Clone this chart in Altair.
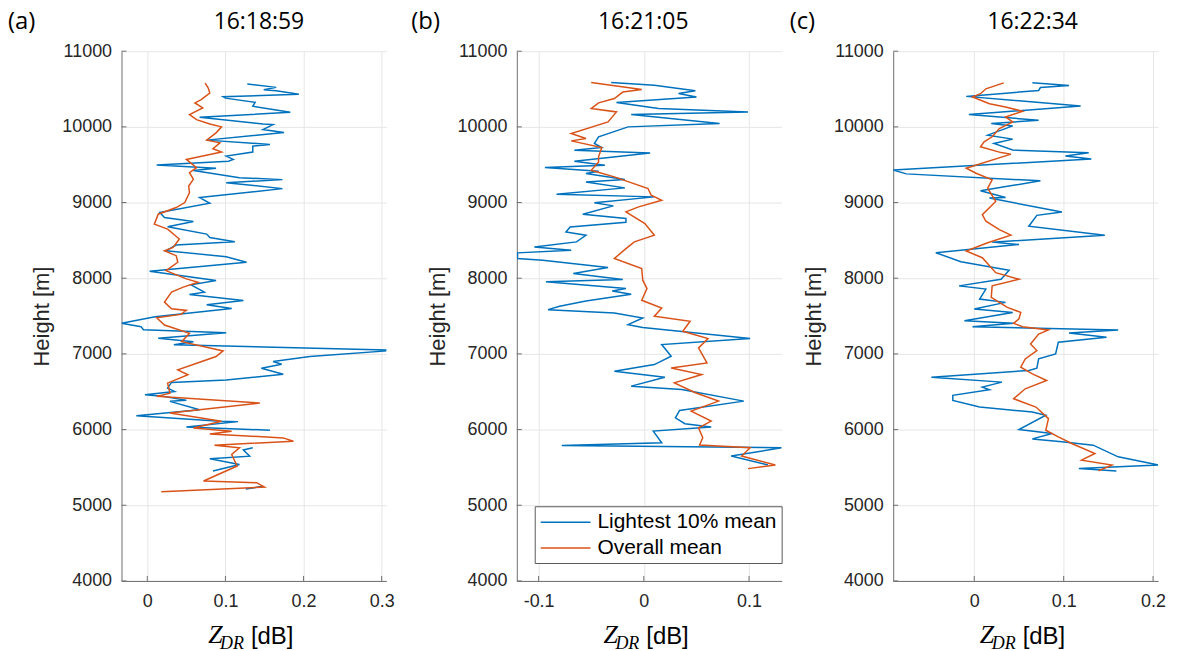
import altair as alt
import pandas as pd

BLUE = "#0072BD"
ORANGE = "#D95319"
SERIES = ["Lightest 10% mean", "Overall mean"]
Y_TICKS = [4000, 5000, 6000, 7000, 8000, 9000, 10000, 11000]

# ---------------- panel (a) 16:18:59 ----------------
a_blue_h = [10566, 10522, 10491, 10478, 10430, 10399, 10380, 10325, 10272, 10193, 10127, 10039, 10030, 9965,
            9925, 9825, 9768, 9745, 9667, 9614, 9570, 9545, 9496, 9452, 9425, 9329, 9303, 9263, 9184, 9066,
            8991, 8868, 8803, 8750, 8680, 8583, 8539, 8482, 8439, 8364, 8285, 8211, 8092, 7969, 7912, 7816,
            7785, 7706, 7649, 7600, 7490, 7404, 7360, 7320, 7281, 7206, 7162, 7120, 7053, 7040, 6965, 6899,
            6864, 6811, 6732, 6654, 6623, 6548, 6504, 6461, 6440, 6386, 6373, 6263, 6184, 6110, 6105, 6035,
            5991,
            5759, 5730, 5649, 5614, 5539, 5452,
            5250, 5215]
a_blue_v = [0.128, 0.165, 0.149, 0.165, 0.194, 0.097, 0.100, 0.138, 0.135, 0.183, 0.067, 0.148, 0.161, 0.148,
            0.175, 0.076, 0.157, 0.135, 0.135, 0.101, 0.110, 0.104, 0.012, 0.088, 0.059, 0.118, 0.173, 0.101,
            0.173, 0.067, 0.080, 0.016, 0.022, 0.059, 0.026, 0.076, 0.080, 0.112, 0.037, 0.024, 0.101, 0.127,
            0.003, 0.088, 0.056, 0.073, 0.054, 0.123, 0.076, 0.108, 0.010, -0.033, -0.008, -0.005, 0.101,
            0.014, 0.059, 0.034, 0.306, 0.306, 0.208, 0.161, 0.172, 0.146, 0.174, 0.101, 0.031, 0.026, 0.035,
            -0.003, 0.020, 0.050, 0.029, 0.067, -0.014, 0.093, 0.116, 0.050, 0.157,
            0.135, 0.123, 0.131, 0.080, 0.118, 0.084,
            0.148, 0.126]
a_blue_seg = [0] * 79 + [1] * 6 + [2] * 2

a_orange_h = [10579, 10513, 10447, 10400, 10360, 10316, 10250, 10162, 10096, 10039, 10000, 9921, 9825, 9789,
              9711, 9667, 9614, 9570, 9461, 9395, 9307, 9219, 9132, 9000, 8934, 8846, 8715, 8649, 8518, 8408,
              8364, 8298, 8211, 8101, 7991, 7947, 7882, 7816, 7684, 7596, 7575, 7522, 7478, 7382, 7272, 7162,
              7039, 6965, 6890, 6789, 6724, 6614, 6482, 6439, 6351, 6219, 6110, 6022, 5978, 5943, 5890, 5846,
              5794, 5759, 5671, 5518, 5320, 5298, 5241, 5180]
a_orange_v = [0.074, 0.078, 0.080, 0.074, 0.069, 0.061, 0.071, 0.054, 0.063, 0.080, 0.095, 0.088, 0.076, 0.093,
              0.084, 0.095, 0.071, 0.050, 0.063, 0.054, 0.059, 0.053, 0.054, 0.048, 0.037, 0.014, 0.009, 0.026,
              0.041, 0.033, 0.022, 0.037, 0.039, 0.024, 0.050, 0.065, 0.046, 0.031, 0.022, 0.031, 0.050, 0.043,
              0.012, 0.022, 0.054, 0.044, 0.097, 0.088, 0.067, 0.039, 0.052, 0.026, 0.029, 0.012, 0.144, 0.029,
              0.095, 0.059, 0.108, 0.080, 0.174, 0.187, 0.086, 0.118, 0.108, 0.115, 0.072, 0.140, 0.150, 0.018]

# ---------------- panel (b) 16:21:05 ----------------
b_blue_h = [10586, 10551, 10476, 10441, 10396, 10322, 10242, 10198, 10163, 10044, 10000, 9868, 9780, 9727,
            9692, 9656, 9546, 9493, 9463, 9414, 9383, 9304, 9273, 9194, 9110, 9075, 8996, 8956, 8846, 8789,
            8740, 8678, 8612, 8568, 8480, 8414, 8370, 8335, 8260, 8238, 8141, 8062, 7982, 7952, 7863, 7830,
            7789, 7700, 7629, 7585, 7541, 7475, 7387, 7350, 7202, 7123, 6969, 6859, 6771, 6692, 6574, 6530,
            6376, 6253, 6156, 6077, 6033, 5980, 5826, 5791, 5760, 5650, 5532]
b_blue_v = [-0.031, 0.010, 0.049, 0.033, 0.050, -0.026, 0.014, 0.099, -0.012, 0.072, -0.015, -0.043, -0.047,
            -0.040, -0.066, 0.006, -0.066, -0.037, -0.094, -0.043, -0.055, -0.018, -0.055, -0.018, -0.083,
            0.010, -0.047, -0.029, -0.058, -0.017, -0.017, -0.070, -0.074, -0.055, -0.064, -0.104, -0.069,
            -0.120, -0.120, -0.096, -0.034, -0.067, -0.020, -0.093, -0.017, -0.030, -0.012, -0.055, -0.080,
            -0.091, -0.028, -0.001, -0.015, -0.001, 0.101, 0.017, 0.026, 0.010, -0.028, 0.020, -0.012, 0.036,
            0.095, 0.034, 0.030, 0.039, 0.064, 0.009, 0.017, -0.078, 0.131, 0.083, 0.118]

b_orange_h = [10586, 10493, 10460, 10374, 10317, 10242, 10198, 10066, 9912, 9846, 9815, 9727, 9604, 9537,
              9427, 9339, 9185, 9097, 9031, 8943, 8877, 8722, 8568, 8480, 8392, 8260, 8128, 7974, 7863, 7709,
              7607, 7497, 7431, 7299, 7202, 7079, 6881, 6815, 6727, 6618, 6486, 6376, 6244, 6112, 6024, 5892,
              5796, 5760, 5650, 5532, 5484]
b_orange_v = [-0.050, -0.002, -0.020, -0.028, -0.043, -0.050, -0.026, -0.034, -0.069, -0.055, -0.069, -0.040,
              -0.043, -0.043, -0.050, -0.028, 0.004, 0.007, 0.017, -0.005, -0.017, 0.001, 0.010, -0.009,
              -0.017, -0.028, -0.002, -0.001, 0.003, -0.002, 0.017, 0.010, 0.044, 0.037, 0.061, 0.052, 0.060,
              0.026, 0.055, 0.029, 0.049, 0.071, 0.045, 0.064, 0.052, 0.056, 0.053, 0.101, 0.093, 0.125, 0.099]

# ---------------- panel (c) 16:22:34 ----------------
c_blue_h = [10582, 10547, 10520, 10481, 10403, 10276, 10162, 10088, 10044, 10013, 9891, 9838, 9781, 9694,
            9659, 9615, 9576, 9431, 9379, 9287, 9155, 9068, 9060, 8875, 8831, 8687, 8569, 8477, 8446, 8337,
            8219, 8105, 7987, 7899, 7856, 7724, 7681, 7593, 7548, 7439, 7404, 7360, 7316, 7276, 7219, 7154,
            7000, 6934, 6811, 6781, 6693, 6627, 6561, 6526, 6452, 6386, 6298, 6232, 6189, 6000, 5947, 5877,
            5838, 5794, 5640, 5531, 5487, 5452]
c_blue_v = [0.065, 0.106, 0.074, 0.072, -0.009, 0.119, -0.006, 0.072, 0.019, 0.043, 0.015, 0.043, 0.022, 0.043,
            0.128, 0.102, 0.131, -0.091, -0.076, 0.074, 0.007, 0.035, 0.017, 0.098, 0.070, 0.061, 0.146, 0.020,
            0.050, -0.043, -0.015, 0.039, 0.030, -0.017, 0.013, 0.006, 0.035, 0.000, 0.043, -0.011, 0.044,
            -0.002, 0.161, 0.106, 0.148, 0.094, 0.091, 0.072, 0.070, 0.061, -0.048, 0.031, 0.009, 0.017,
            -0.024, -0.024, 0.006, 0.065, 0.080, 0.050, 0.087, 0.065, 0.098, 0.133, 0.161, 0.206, 0.117, 0.159]

c_orange_h = [10582, 10503, 10438, 10394, 10306, 10263, 10206, 10131, 10066, 9978, 9869, 9803, 9737, 9660,
              9640, 9453, 9387, 9300, 9190, 9015, 8840, 8753, 8643, 8569, 8468, 8359, 8271, 8074, 7987, 7899,
              7746, 7615, 7549, 7462, 7404, 7360, 7316, 7263, 7132, 7044, 6934, 6825, 6737, 6649, 6539, 6408,
              6298, 6145, 5991, 5904, 5816, 5684, 5596, 5531, 5456]
c_orange_v = [0.033, 0.013, 0.007, -0.002, 0.017, 0.035, 0.054, 0.035, 0.043, 0.028, 0.020, 0.011, 0.007, 0.030,
              0.041, -0.009, 0.002, 0.020, 0.015, 0.024, 0.009, 0.013, 0.028, 0.041, 0.015, -0.009, 0.009,
              0.024, 0.050, 0.020, 0.019, 0.037, 0.052, 0.050, 0.044, 0.054, 0.083, 0.072, 0.063, 0.070, 0.057,
              0.052, 0.065, 0.081, 0.057, 0.044, 0.069, 0.083, 0.080, 0.094, 0.109, 0.135, 0.120, 0.154, 0.139]

X_DOMAINS = {"a": [-0.033, 0.306], "b": [-0.1207, 0.131], "c": [-0.0907, 0.2056]}
X_TICKS = {"a": [0, 0.1, 0.2, 0.3], "b": [-0.1, 0, 0.1], "c": [0, 0.1, 0.2]}
TIMES = {"a": "16:18:59", "b": "16:21:05", "c": "16:22:34"}

W, H = 266, 532
Y_DOMAIN = [4000, 11000]
AXIS_GRAY = "#6e6e6e"


def frame(h, v, name, seg=None):
    if seg is None:
        seg = [0] * len(h)
    return pd.DataFrame({"h": h, "v": v, "series": name,
                         "seg": [f"{name}-{s}" for s in seg], "idx": list(range(len(h)))})


def text_layer(s, x, y, size, font, style="normal", align="left", baseline="alphabetic"):
    return alt.Chart(pd.DataFrame({"t": [s]})).mark_text(
        font=font, fontSize=size, fontStyle=style, align=align, baseline=baseline, color="black"
    ).encode(text="t:N", x=alt.value(x), y=alt.value(y))


def panel(key, df, tag_dx, title_dx, show_legend):
    xscale = alt.Scale(domain=X_DOMAINS[key], nice=False, zero=False)
    yscale = alt.Scale(domain=Y_DOMAIN, nice=False, zero=False)
    if show_legend:
        legend = alt.Legend(title=None, orient="bottom-left", offset=18, fillColor="white",
                            strokeColor="#5a5a5a", padding=5, labelFont="Liberation Sans",
                            labelFontSize=21, labelColor="black", labelLimit=0,
                            symbolType="M-1,0H4", symbolSize=400,
                            symbolStrokeWidth=1.5, labelOffset=36, rowPadding=5, cornerRadius=0)
    else:
        legend = None
    lines = alt.Chart(df).mark_line(strokeWidth=1.5, clip=True).encode(
        x=alt.X("v:Q", scale=xscale,
                axis=alt.Axis(values=X_TICKS[key], title=None, labelExpr="toString(datum.value)",
                              labelPadding=12)),
        y=alt.Y("h:Q", scale=yscale,
                axis=alt.Axis(values=Y_TICKS, title="Height [m]", labelExpr="toString(datum.value)",
                              labelPadding=10, titlePadding=8)),
        color=alt.Color("series:N", scale=alt.Scale(domain=SERIES, range=[BLUE, ORANGE]), legend=legend),
        detail="seg:N",
        order="idx:Q",
    )
    # inward tick marks (MATLAB style)
    xticks = alt.Chart(pd.DataFrame({"v": X_TICKS[key]})).mark_rule(color=AXIS_GRAY, strokeWidth=1).encode(
        x=alt.X("v:Q", scale=xscale, title=None), y=alt.value(H), y2=alt.value(H - 5))
    yticks = alt.Chart(pd.DataFrame({"h": Y_TICKS})).mark_rule(color=AXIS_GRAY, strokeWidth=1).encode(
        y=alt.Y("h:Q", scale=yscale, title="Height [m]"), x=alt.value(0), x2=alt.value(5))
    cx = W / 2
    layers = [
        xticks,
        yticks,
        lines,
        text_layer("Z", cx - 46, H + 62, 26, "Liberation Serif", style="italic"),
        text_layer("DR", cx - 34, H + 68, 18, "Liberation Serif", style="italic"),
        text_layer("[dB]", cx - 3, H + 63, 24, "Liberation Sans"),
        text_layer(f"({key})", tag_dx, -29, 24, "Open Sans", baseline="middle"),
        text_layer(TIMES[key], cx + title_dx, -29, 23, "Open Sans", align="center", baseline="middle"),
    ]
    return alt.layer(*layers).properties(width=W, height=H)


def spacer(width):
    return alt.Chart(pd.DataFrame({"x": [0]})).mark_point(opacity=0).encode(
        x=alt.value(0), y=alt.value(0)).properties(width=width, height=H)


df_a = pd.concat([frame(a_blue_h, a_blue_v, SERIES[0], a_blue_seg), frame(a_orange_h, a_orange_v, SERIES[1])])
df_b = pd.concat([frame(b_blue_h, b_blue_v, SERIES[0]), frame(b_orange_h, b_orange_v, SERIES[1])])
df_c = pd.concat([frame(c_blue_h, c_blue_v, SERIES[0]), frame(c_orange_h, c_orange_v, SERIES[1])])

pa = panel("a", df_a, -114, 5, False)
pb = panel("b", df_b, -106, -6, True)
pc = panel("c", df_c, -104, 7, False)

chart = alt.hconcat(pa, spacer(131), pb, spacer(112), pc, spacing=0, bounds="flush").resolve_scale(
    color="independent").resolve_legend(color="independent")

chart = chart.properties(
    padding={"left": 0, "top": 1, "right": 5, "bottom": 0},
    background="white",
).configure_view(stroke=None).configure_axis(
    labelFont="Liberation Sans", labelFontSize=18, labelColor="#262626",
    titleFont="Liberation Sans", titleFontSize=22, titleColor="#262626", titleFontWeight="normal",
    domainColor=AXIS_GRAY, domainWidth=1, gridColor="#e6e6e6", gridWidth=1, ticks=False,
)

chart.save("out.html", embed_options={"renderer": "svg", "actions": False})
